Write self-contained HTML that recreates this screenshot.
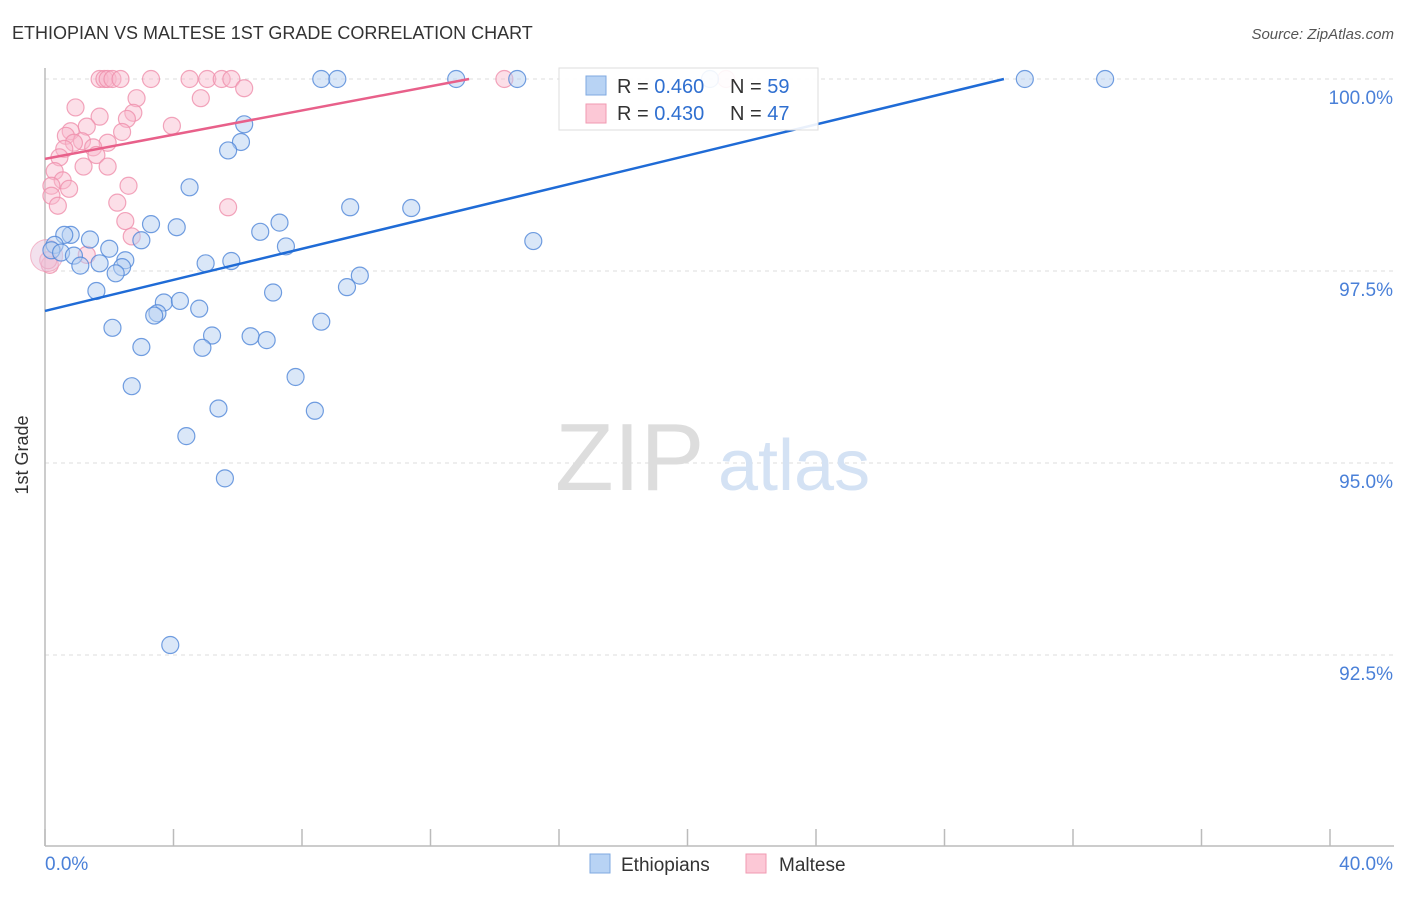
<!DOCTYPE html>
<html><head><meta charset="utf-8"><style>
body{margin:0;background:#fff;font-family:"Liberation Sans",sans-serif;}
svg text{font-family:"Liberation Sans",sans-serif;}
</style></head><body>
<svg width="1406" height="892" id="chart">
<text x="12" y="39" font-size="18" fill="#333">ETHIOPIAN VS MALTESE 1ST GRADE CORRELATION CHART</text>
<text x="1394" y="39" font-size="15" fill="#555" text-anchor="end" font-style="italic">Source: ZipAtlas.com</text>
<g id="grid"></g>
<line x1="45" y1="68" x2="45" y2="846" stroke="#bbb" stroke-width="1.5"/>
<line x1="45" y1="846" x2="1394" y2="846" stroke="#bbb" stroke-width="1.5"/>
<text x="28" y="455" font-size="18" fill="#333" text-anchor="middle" transform="rotate(-90 28 455)">1st Grade</text>
<text x="555" y="490" font-size="96" fill="#ddd" font-family="Liberation Serif">ZIP</text>
<text x="718" y="490" font-size="72" fill="#d4e2f4">atlas</text>
<g id="points"></g>
<g id="lines"></g>
<g id="ticks"></g>
<rect x="559" y="68" width="259" height="62" fill="#fff" fill-opacity="0.9" stroke="#ddd"/>
<rect x="586" y="76" width="20" height="19" fill="#b8d3f4" stroke="#7fa9e0"/>
<rect x="586" y="104" width="20" height="19" fill="#fcc8d6" stroke="#f09ab2"/>
<text x="617" y="93" font-size="20" fill="#333">R = <tspan fill="#2f6fd0">0.460</tspan></text>
<text x="730" y="93" font-size="20" fill="#333">N = <tspan fill="#2f6fd0">59</tspan></text>
<text x="617" y="120" font-size="20" fill="#333">R = <tspan fill="#2f6fd0">0.430</tspan></text>
<text x="730" y="120" font-size="20" fill="#333">N = <tspan fill="#2f6fd0">47</tspan></text>
<rect x="590" y="854" width="20" height="19" fill="#b8d3f4" stroke="#7fa9e0"/>
<text x="621" y="871" font-size="19" fill="#333">Ethiopians</text>
<rect x="746" y="854" width="20" height="19" fill="#fcc8d6" stroke="#f09ab2"/>
<text x="779" y="871" font-size="19" fill="#333">Maltese</text>
<text x="45" y="870" font-size="19" fill="#4a80d8">0.0%</text>
<text x="1393" y="870" font-size="19" fill="#4a80d8" text-anchor="end">40.0%</text>
</svg>
<script>
const yTicks=[100,97.5,95,92.5];
const yTickLabels=["100.0%","97.5%","95.0%","92.5%"];
const xTicks=[0,4,8,12,16,20,24,28,32,36,40];
const ethX=[8.6,9.1,12.8,14.7,30.5,33.0,20.7,6.2,6.1,5.7,4.5,9.5,11.4,3.3,4.1,6.7,7.3,15.2,7.5,3.0,1.4,0.8,0.6,0.3,0.2,0.5,0.9,2.0,1.7,1.1,2.5,2.4,2.2,5.0,5.8,9.8,9.4,7.1,1.6,3.7,4.2,4.8,3.5,3.4,2.1,8.6,5.2,6.4,6.9,3.0,4.9,7.8,2.7,5.4,8.4,4.4,5.6,3.9];
const ethY=[100,100,100,100,100,100,100,99.41,99.18,99.07,98.59,98.33,98.32,98.11,98.07,98.01,98.13,97.89,97.82,97.90,97.91,97.97,97.97,97.84,97.77,97.74,97.70,97.79,97.60,97.57,97.64,97.55,97.47,97.60,97.63,97.44,97.29,97.22,97.24,97.09,97.11,97.01,96.95,96.92,96.76,96.84,96.66,96.65,96.60,96.51,96.50,96.12,96.00,95.71,95.68,95.35,94.80,92.63];
const malX=[1.7,1.85,1.95,2.1,2.35,3.3,4.5,5.05,5.5,5.8,14.3,21.2,2.85,0.95,4.85,6.2,2.75,1.7,2.55,3.95,1.3,2.4,0.8,0.65,1.95,1.15,0.9,1.5,0.6,1.6,0.45,1.2,1.95,0.3,0.55,0.2,0.75,0.2,0.4,2.6,2.25,5.7,2.5,2.7,1.3,0.15,0.1];
const malY=[100,100,100,100,100,100,100,100,100,100,100,100,99.75,99.63,99.75,99.88,99.56,99.51,99.48,99.39,99.38,99.31,99.32,99.26,99.17,99.19,99.17,99.11,99.09,99.01,98.98,98.86,98.86,98.80,98.68,98.61,98.57,98.48,98.35,98.61,98.39,98.33,98.15,97.95,97.71,97.58,97.64];
const ethTrendX=[0,29.85];const ethTrendY=[96.98,100];
const malTrendX=[0,13.2];const malTrendY=[98.96,100];
const NS="http://www.w3.org/2000/svg";
const xs=v=>45+v/40*1285;
const ys=v=>79+(100-v)*76.8;
function mk(t,a,p){const e=document.createElementNS(NS,t);for(const k in a)e.setAttribute(k,a[k]);p.appendChild(e);return e;}
const grid=document.getElementById('grid'),ticks=document.getElementById('ticks');
yTicks.forEach((v,i)=>{
 const l=mk('line',{x1:45,x2:1394,y1:ys(v),y2:ys(v),stroke:'#ddd','stroke-dasharray':'4,4'},grid);
 
 
 const t=mk('text',{x:1393,y:ys(v)+25,'font-size':19,fill:'#4a80d8','text-anchor':'end'},ticks);
 t.textContent=yTickLabels[i];
 
 
});
xTicks.forEach(v=>{
 const l=mk('line',{x1:xs(v),x2:xs(v),y1:829,y2:846,stroke:'#bbb','stroke-width':1.5},ticks);
 
 
});
const pts=document.getElementById('points');
malX.forEach((x,i)=>{
 const c=mk('circle',{cx:xs(x),cy:ys(malY[i]),r:8.5,fill:'#f9b9cb','fill-opacity':0.45,stroke:'#ef8fab','stroke-opacity':0.8,'stroke-width':1.2},pts);
 
 
});
const big=mk('circle',{cx:xs(0.05),cy:ys(97.7),r:16,fill:'#e8c4dc','fill-opacity':0.5,stroke:'#ef8fab','stroke-opacity':0.6},pts);


ethX.forEach((x,i)=>{
 const c=mk('circle',{cx:xs(x),cy:ys(ethY[i]),r:8.5,fill:'#b6d0f2','fill-opacity':0.5,stroke:'#4f86d8','stroke-opacity':0.8,'stroke-width':1.2},pts);
 
 
});
const lines=document.getElementById('lines');
const l1=mk('line',{x1:xs(ethTrendX[0]),y1:ys(ethTrendY[0]),x2:xs(ethTrendX[1]),y2:ys(ethTrendY[1]),stroke:'#1f6bd6','stroke-width':2.5},lines);


const l2=mk('line',{x1:xs(malTrendX[0]),y1:ys(malTrendY[0]),x2:xs(malTrendX[1]),y2:ys(malTrendY[1]),stroke:'#e8608a','stroke-width':2.5},lines);


</script>
</body></html>
